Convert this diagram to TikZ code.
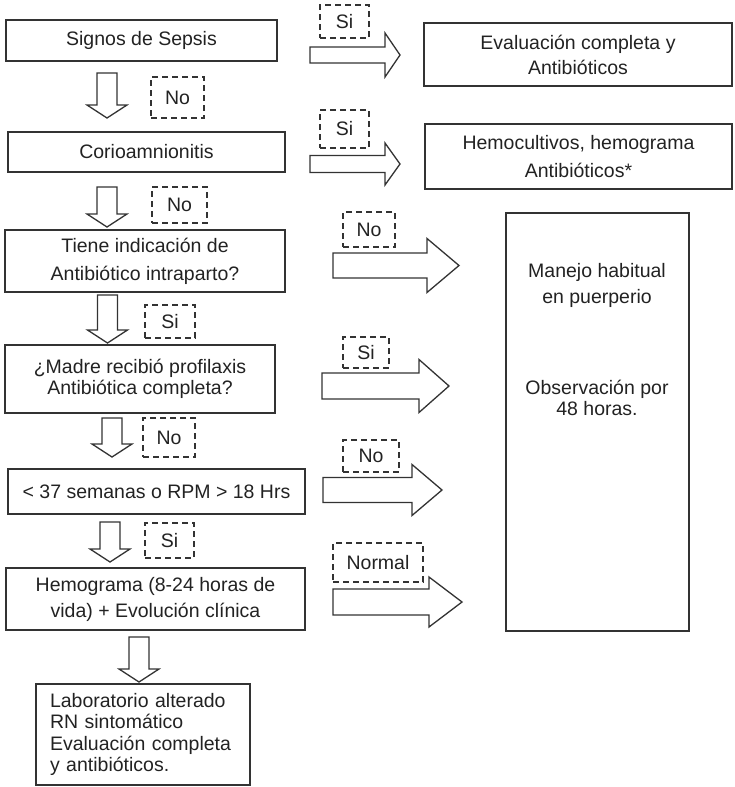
\documentclass[tikz,border=0pt]{standalone}
\usepackage{fontspec}
\setmainfont{Liberation Sans}
\definecolor{linegray}{HTML}{333333}
\definecolor{textgray}{HTML}{222222}
\tikzset{
  box/.style={draw=linegray, line width=1.4pt, inner sep=0pt, align=center,
    text=textgray, font=\fontsize{19.5}{26}\selectfont},
  tag/.style={draw=linegray, dash pattern=on 6pt off 4pt, line width=1.2pt,
    inner sep=0pt, text=textgray, font=\fontsize{19.5}{24}\selectfont},
  txt/.style={align=center, text=textgray, font=\fontsize{19.5}{26}\selectfont},
  blockarrow/.style={draw=linegray, line width=1.3pt, fill=white, line join=miter}
}
% down block arrow: centre x, top y, tip y
\newcommand{\downblock}[3]{%
  \draw[blockarrow] (#1-10,#2) -- (#1+10,#2) -- (#1+10,#3-13) -- (#1+20,#3-13)
    -- (#1,#3) -- (#1-20,#3-13) -- (#1-10,#3-13) -- cycle;}
% right block arrow: tail x, tip x, centre y, shaft half, head half, head length
\newcommand{\rightblock}[6]{%
  \draw[blockarrow] (#1,#3-#4) -- (#2-#6,#3-#4) -- (#2-#6,#3-#5) -- (#2,#3)
    -- (#2-#6,#3+#5) -- (#2-#6,#3+#4) -- (#1,#3+#4) -- cycle;}

\begin{document}
\begin{tikzpicture}[x=1pt,y=-1pt]
    \useasboundingbox (0,0) rectangle (734,787);
    % left column
    \node[box, minimum width=271, minimum height=41] (sepsis) at (141.5,40.5) {Signos de Sepsis};
    \node[box, minimum width=277, minimum height=40] (corio) at (146.5,152) {Corioamnionitis};
    \node[box, minimum width=280, minimum height=62, font=\fontsize{19.5}{28}\selectfont] (indica) at (145,261) {Tiene indicación de\\Antibiótico intraparto?};
    \node[box, minimum width=270, minimum height=68, font=\fontsize{19.5}{21}\selectfont] (profi) at (140,379) {¿Madre recibió profilaxis\\Antibiótica completa?};
    \node[box, minimum width=297, minimum height=45] (rpm) at (156.5,491.5) {< 37 semanas o RPM > 18 Hrs};
    \node[box, minimum width=299, minimum height=62] (hemog) at (155.5,599) {Hemograma (8-24 horas de\\vida) + Evolución clínica};
    \node[box, minimum width=214, minimum height=101, text width=186, align=left, font=\fontsize{19.5}{21.5}\selectfont] (labo) at (143,734.5) {Laboratorio alterado\\RN sintomático\\Evaluación completa\\y antibióticos.};
    % right column
    \node[box, minimum width=308, minimum height=63, font=\fontsize{19.5}{25}\selectfont] (evalua) at (578,54.5) {Evaluación completa y\\Antibióticos};
    \node[box, minimum width=307, minimum height=65, font=\fontsize{19.5}{28}\selectfont] (hemoc) at (578.5,156.5) {Hemocultivos, hemograma\\Antibióticos*};
    \node[box, minimum width=183, minimum height=418] (manejo) at (597.5,422) {};
    \node[txt] (manejo1) at (597,285) {Manejo habitual\\en puerperio};
    \node[txt, font=\fontsize{19.5}{21}\selectfont] (manejo2) at (597,397.5) {Observación por\\48 horas.};
    % dashed answers
    \node[tag, minimum width=49, minimum height=33] (si1) at (344.5,21.5) {Si};
    \node[tag, minimum width=53, minimum height=41] (no1) at (177.5,97.5) {No};
    \node[tag, minimum width=49, minimum height=38] (si2) at (344.5,129) {Si};
    \node[tag, minimum width=55, minimum height=36] (no2) at (179.5,205) {No};
    \node[tag, minimum width=52, minimum height=35] (no3) at (369,229.5) {No};
    \node[tag, minimum width=50, minimum height=33] (si3) at (170,321.5) {Si};
    \node[tag, minimum width=46, minimum height=31] (si4) at (366,352.5) {Si};
    \node[tag, minimum width=52, minimum height=39] (no4) at (169,437.5) {No};
    \node[tag, minimum width=56, minimum height=32] (no5) at (371,456) {No};
    \node[tag, minimum width=49, minimum height=35] (si5) at (169.5,540.5) {Si};
    \node[tag, minimum width=90, minimum height=39] (normal) at (378,562.5) {Normal};
    % block arrows
    \downblock{107}{73}{118}
    \downblock{107}{187}{227}
    \downblock{107.5}{295}{343}
    \downblock{112}{418}{457}
    \downblock{110}{522}{562}
    \downblock{139}{637}{682}
    \rightblock{310}{400}{55}{8}{22}{15}
    \rightblock{310}{400}{164}{8.5}{21}{15}
    \rightblock{333}{459}{265.5}{12.5}{27}{32}
    \rightblock{322}{449}{386}{13}{26.5}{30}
    \rightblock{323}{442}{490}{12.5}{25.5}{30}
    \rightblock{333}{462}{602}{13}{25}{33}
\end{tikzpicture}
\end{document}
